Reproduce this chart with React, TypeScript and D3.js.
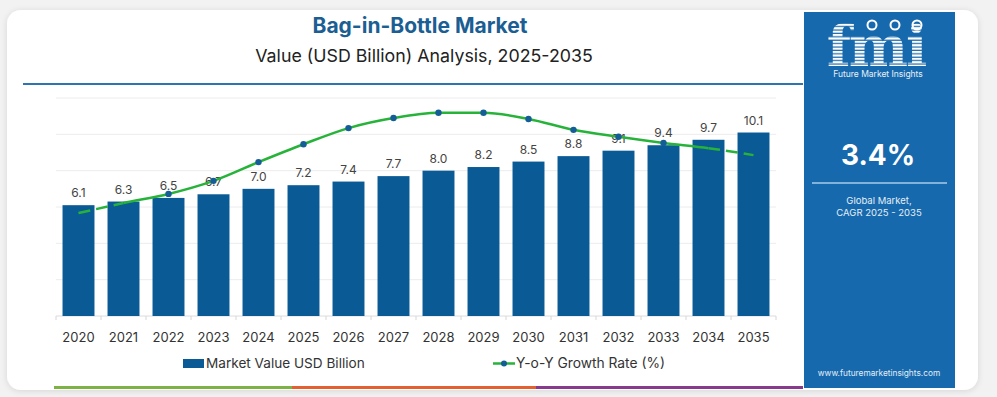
import React from 'react';
import * as d3 from 'd3';

// chart data
const years = ['2020', '2021', '2022', '2023', '2024', '2025', '2026', '2027', '2028', '2029', '2030', '2031', '2032', '2033', '2034', '2035'];
const marketValues = [6.1, 6.3, 6.5, 6.7, 7.0, 7.2, 7.4, 7.7, 8.0, 8.2, 8.5, 8.8, 9.1, 9.4, 9.7, 10.1];
const growthRates = [2.36, 2.59, 2.8, 3.1, 3.53, 3.94, 4.31, 4.54, 4.66, 4.66, 4.52, 4.27, 4.11, 3.97, 3.85, 3.69];
const valueTicks = [0, 2, 4, 6, 8, 10, 12];
const markerYears = ['2022', '2023', '2024', '2025', '2026', '2027', '2028', '2029', '2030', '2031', '2032', '2033'];

const W = 997;
const H = 397;
const FONT = 'Inter, "Open Sans", sans-serif';
const BAR = '#0a5a96';
const GREEN = '#27b33a';
const DOT = '#155d97';
const PANEL = '#1769ad';

export default function App() {
  const x = d3.scaleBand<string>()
    .domain(years)
    .range([56, 776])
    .paddingInner(0.29)
    .paddingOuter(0.145);

  const y = d3.scaleLinear().domain([0, 12]).range([316, 98]);
  const yGrowth = d3.scaleLinear().domain([0, 5]).range([316, 98]);

  const cx = (yr: string) => (x(yr) ?? 0) + x.bandwidth() / 2;

  const growthPts = years.map((yr, i) => ({ yr, v: growthRates[i] }));
  const linePath = d3.line<{ yr: string; v: number }>()
    .x(d => cx(d.yr))
    .y(d => yGrowth(d.v))
    .curve(d3.curveMonotoneX)(growthPts) || '';

  const solidFrom = cx('2021');
  const solidTo = cx('2034');

  // band edges for the little x-axis ticks
  const edges = years.map(yr => (x(yr) ?? 0) - (x.step() - x.bandwidth()) / 2).concat([776]);

  return (
    <div style={{ position: 'fixed', left: 0, top: 0 }}>
      <svg width={W} height={H} style={{ display: 'block', fontFamily: FONT }}>
        <defs>
          <filter id="shadow" x="-5%" y="-5%" width="110%" height="110%">
            <feDropShadow dx="0" dy="1" stdDeviation="3" floodColor="#000" floodOpacity="0.12" />
          </filter>
          <pattern id="stripes" width="4" height="3.4" patternUnits="userSpaceOnUse">
            <rect x="0" y="0" width="4" height="2.2" fill="#fff" />
          </pattern>
          <clipPath id="solidClip">
            <rect x={solidFrom} y={0} width={solidTo - solidFrom} height={H} />
          </clipPath>
          <clipPath id="dashClip">
            <rect x={0} y={0} width={solidFrom} height={H} />
            <rect x={solidTo} y={0} width={W - solidTo} height={H} />
          </clipPath>
        </defs>

        <rect x={0} y={0} width={W} height={H} fill="#f2f2f2" />
        <rect x={7} y={10} width={971} height={380} rx={14} fill="#fff" filter="url(#shadow)" />

        {/* titles */}
        <text x={420} y={33} textAnchor="middle" fontSize={21} fontWeight={700} fill="#1b5e93">
          Bag-in-Bottle Market
        </text>
        <text x={424} y={62} textAnchor="middle" fontSize={17.8} fill="#222">
          Value (USD Billion) Analysis, 2025-2035
        </text>
        <line x1={23} x2={803} y1={84} y2={84} stroke="#2f73b0" strokeWidth={2} />

        {/* grid */}
        {valueTicks.slice(1).map(t => (
          <line key={t} x1={56} x2={776} y1={y(t)} y2={y(t)} stroke="#ececec" strokeWidth={1} />
        ))}
        <line x1={56} x2={776} y1={y(0)} y2={y(0)} stroke="#dcdcdc" strokeWidth={1} />
        {edges.map((e, i) => (
          <line key={i} x1={e} x2={e} y1={316} y2={320} stroke="#d6d6d6" strokeWidth={1} />
        ))}

        {/* bars */}
        {years.map((yr, i) => (
          <rect key={yr} x={x(yr)} y={y(marketValues[i])} width={x.bandwidth()}
            height={y(0) - y(marketValues[i])} fill={BAR} />
        ))}

        {/* value labels */}
        {years.map((yr, i) => (
          <text key={yr} x={cx(yr)} y={y(marketValues[i]) - 8} textAnchor="middle" fontSize={12} fill="#444">
            {marketValues[i].toFixed(1)}
          </text>
        ))}

        {/* growth line */}
        <path d={linePath} fill="none" stroke={GREEN} strokeWidth={2.5} clipPath="url(#solidClip)" />
        <path d={linePath} fill="none" stroke={GREEN} strokeWidth={2.5} strokeDasharray="12 6" clipPath="url(#dashClip)" />
        {growthPts.filter(d => markerYears.includes(d.yr)).map(d => (
          <circle key={d.yr} cx={cx(d.yr)} cy={yGrowth(d.v)} r={3.2} fill={DOT} />
        ))}

        {/* year labels */}
        {years.map(yr => (
          <text key={yr} x={cx(yr)} y={342} textAnchor="middle" fontSize={13} fill="#333">
            {yr}
          </text>
        ))}

        {/* legend */}
        <rect x={183} y={359} width={21} height={9} fill={BAR} />
        <text x={206} y={368} fontSize={13.6} fill="#333">Market Value USD Billion</text>
        <line x1={493} x2={515} y1={363.5} y2={363.5} stroke={GREEN} strokeWidth={2.5} />
        <circle cx={504} cy={363.5} r={3} fill={DOT} />
        <text x={516} y={368} fontSize={13.8} fill="#333">Y-o-Y Growth Rate (%)</text>

        {/* bottom colour strip */}
        <rect x={54} y={386} width={238} height={3} fill="#7cb342" />
        <rect x={292} y={386} width={244} height={3} fill="#e4602f" />
        <rect x={536} y={386} width={267} height={3} fill="#8a3a8c" />

        {/* side panel */}
        <rect x={804} y={12} width={151} height={376} fill={PANEL} />
        <text x={876} y={66} textAnchor="middle" fontSize={56} fontWeight={700}
          fontFamily='"DejaVu Serif", serif' fill="url(#stripes)" letterSpacing={-2}>
          fmi
        </text>
        {[872, 895, 917].map(c => (
          <circle key={c} cx={c} cy={25} r={4.5} fill="none" stroke="#fff" strokeWidth={2} />
        ))}
        <text x={878} y={77} textAnchor="middle" fontSize={8.5} fill="#e8f0f8">Future Market Insights</text>

        <text x={878} y={165} textAnchor="middle" fontSize={28} fontWeight={700} fill="#fff">3.4%</text>
        <line x1={812} x2={947} y1={183} y2={183} stroke="#a9cdeb" strokeWidth={1.5} />
        <text x={879} y={204} textAnchor="middle" fontSize={9.5} fill="#e3eef8">Global Market,</text>
        <text x={879} y={216} textAnchor="middle" fontSize={9.5} fill="#e3eef8">CAGR 2025 - 2035</text>
        <text x={879} y={376} textAnchor="middle" fontSize={8.3} fill="#e3eef8">www.futuremarketinsights.com</text>
      </svg>
    </div>
  );
}
